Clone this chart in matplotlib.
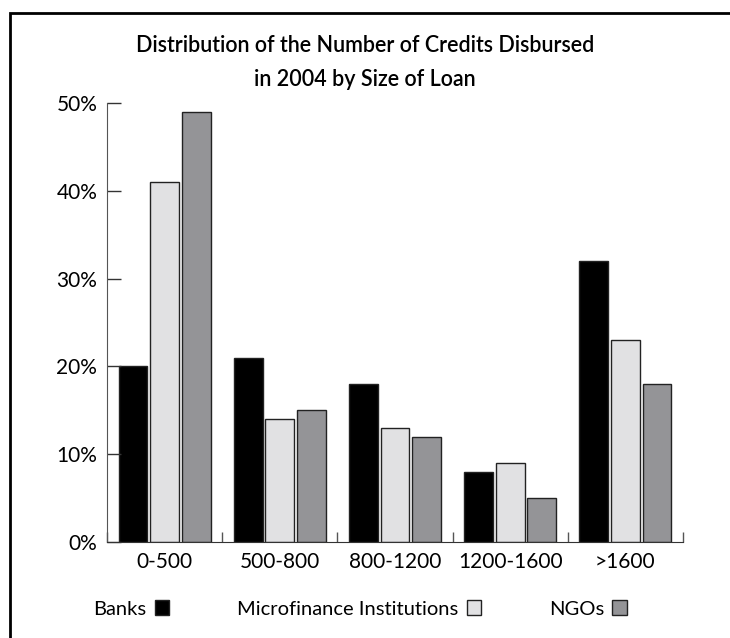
import matplotlib.pyplot as plt
import matplotlib.patches as mpatches
import numpy as np

plt.rcParams["font.family"] = ["Lato", "DejaVu Sans"]

categories = ["0-500", "500-800", "800-1200", "1200-1600", ">1600"]
banks = [20, 21, 18, 8, 32]
mfi = [41, 14, 13, 9, 23]
ngos = [49, 15, 12, 5, 18]
series_names = ["Banks", "Microfinance Institutions", "NGOs"]
y_ticks = [0, 10, 20, 30, 40, 50]

colors = ["#000000", "#e1e1e3", "#949497"]

fig = plt.figure(figsize=(7.3, 6.38), dpi=100)
ax = fig.add_axes([107 / 730, 1 - 542 / 638, 576 / 730, (542 - 103) / 638])

x = np.arange(len(categories))
w = 0.25
step = 0.275
for i, (vals, c) in enumerate(zip([banks, mfi, ngos], colors)):
    ax.bar(x + (i - 1) * step, vals, width=w, color=c, edgecolor="#222222",
           linewidth=1.0, label=series_names[i])

ax.set_xlim(-0.5, len(categories) - 0.5)
ax.set_ylim(0, 50)
ax.set_yticks(y_ticks)
ax.set_yticklabels([f"{v}%" for v in y_ticks], fontsize=15)
ax.set_xticks(x)
ax.set_xticklabels(categories, fontsize=15)
ax.set_xticks(np.arange(len(categories) + 1) - 0.5, minor=True)

ax.tick_params(axis="y", direction="in", length=10, width=1, pad=7, color="#333333")
ax.tick_params(axis="x", which="major", length=0, pad=7)
ax.tick_params(axis="x", which="minor", direction="in", length=7, width=1, color="#555555")

for s in ["top", "right"]:
    ax.spines[s].set_visible(False)
ax.spines["left"].set_color("#555555")
ax.spines["bottom"].set_color("#333333")

fig.text(365 / 730, 1 - 45 / 638, "Distribution of the Number of Credits Disbursed",
         ha="center", va="center", fontsize=15.5, fontweight="semibold")
fig.text(365 / 730, 1 - 80 / 638, "in 2004 by Size of Loan",
         ha="center", va="center", fontsize=15.5, fontweight="semibold")

handles = [mpatches.Patch(facecolor=c, edgecolor="#222222", linewidth=1.0) for c in colors]
fig.legend(handles, series_names, loc="center", bbox_to_anchor=(360 / 730, 1 - 609 / 638),
           ncol=3, frameon=False, markerfirst=False, fontsize=14.5,
           handlelength=0.7, handleheight=0.7, columnspacing=3.4, handletextpad=0.4)

# outer frame
frame = mpatches.Rectangle((10 / 730, -0.1), 1.2, 1.1 - 13 / 638, transform=fig.transFigure,
                           fill=False, edgecolor="black", linewidth=2)
fig.patches.append(frame)

fig.savefig("out.png", dpi=100)
